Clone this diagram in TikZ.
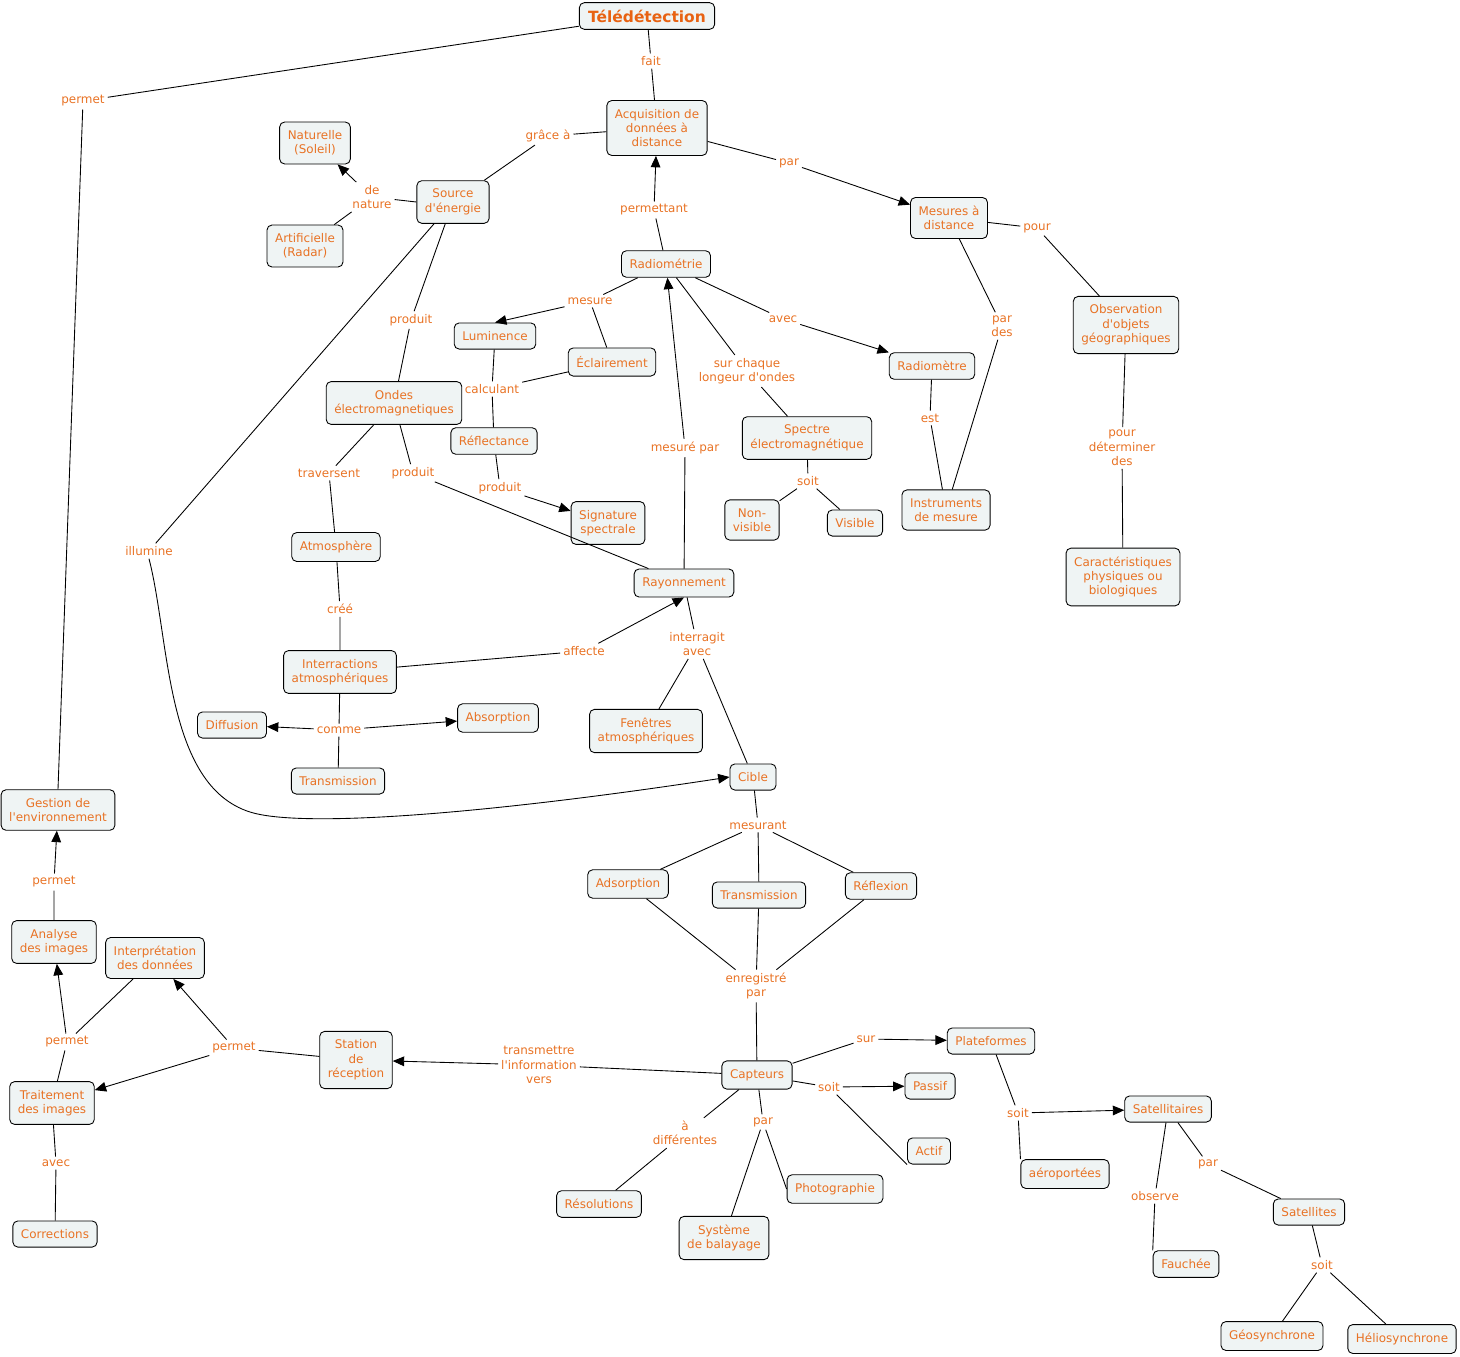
\documentclass[tikz,border=0pt]{standalone}
\usepackage{fontspec}
\setmainfont{DejaVu Sans}
\usetikzlibrary{arrows.meta}
\definecolor{cmaptext}{RGB}{232,114,36}
\definecolor{cmaptitle}{RGB}{232,98,18}
\definecolor{cmapfill}{RGB}{239,244,244}
\newcommand{\apos}{\textquotesingle}

\begin{document}
\begin{tikzpicture}[x=0.02cm,y=-0.02cm,line width=0.5pt,
    font=\fontsize{6.8}{8.2}\selectfont,
    concept/.style={draw,rounded corners=2.8pt,fill=cmapfill,text=cmaptext,align=center,inner xsep=4.6pt,inner ysep=4.8pt},
    link/.style={text=cmaptext,align=center,inner sep=1.5pt},
    arr/.style={-{Triangle[length=6.5pt,width=5.5pt]}}]
    \useasboundingbox (0,0) rectangle (1460,1356);
    % concepts
    \node[concept,text=cmaptitle,font=\fontsize{8.8}{10}\selectfont\bfseries,inner xsep=5pt,inner ysep=4pt] (tele) at (647,16) {Télédétection};
    \node[concept] (acq) at (657,128) {Acquisition de\\données à\\distance};
    \node[concept] (mesdist) at (949,218) {Mesures à\\distance};
    \node[concept] (natur) at (315,143) {Naturelle\\(Soleil)};
    \node[concept] (artif) at (305,246) {Artificielle\\(Radar)};
    \node[concept] (source) at (453,202) {Source\\d\apos énergie};
    \node[concept] (radiom) at (666,264) {Radiométrie};
    \node[concept] (lumin) at (495,336) {Luminence};
    \node[concept] (eclair) at (612,362) {Éclairement};
    \node[concept] (ondes) at (394,403) {Ondes\\électromagnetiques};
    \node[concept] (reflect) at (494,441) {Réflectance};
    \node[concept] (radiometre) at (932,366) {Radiomètre};
    \node[concept] (observ) at (1126,325) {Observation\\d\apos objets\\géographiques};
    \node[concept] (spectre) at (807,438) {Spectre\\électromagnétique};
    \node[concept] (nonvis) at (752,520) {Non-\\visible};
    \node[concept] (visible) at (855,523) {Visible};
    \node[concept] (instr) at (946,510) {Instruments\\de mesure};
    \node[concept] (caract) at (1123,577) {Caractéristiques\\physiques ou\\biologiques};
    \node[concept] (signat) at (608,523) {Signature\\spectrale};
    \node[concept] (atmos) at (336,547) {Atmosphère};
    \node[concept] (rayon) at (684,583) {Rayonnement};
    \node[concept] (interact) at (340,672) {Interractions\\atmosphériques};
    \node[concept] (diffus) at (232,725) {Diffusion};
    \node[concept] (absorp) at (498,718) {Absorption};
    \node[concept] (transA) at (338,781) {Transmission};
    \node[concept] (fenetre) at (646,731) {Fenêtres\\atmosphériques};
    \node[concept] (cible) at (753,777) {Cible};
    \node[concept] (gestion) at (58,810) {Gestion de\\l\apos environnement};
    \node[concept] (adsorp) at (628,884) {Adsorption};
    \node[concept] (transB) at (759,895) {Transmission};
    \node[concept] (reflex) at (881,886) {Réflexion};
    \node[concept] (analyse) at (54,942) {Analyse\\des images};
    \node[concept] (interp) at (155,958) {Interprétation\\des données};
    \node[concept] (station) at (356,1060) {Station\\de\\réception};
    \node[concept] (traite) at (52,1103) {Traitement\\des images};
    \node[concept] (correct) at (55,1234) {Corrections};
    \node[concept] (capteur) at (757,1075) {Capteurs};
    \node[concept] (platef) at (991,1041) {Plateformes};
    \node[concept] (passif) at (930,1086) {Passif};
    \node[concept] (actif) at (929,1151) {Actif};
    \node[concept] (resol) at (599,1204) {Résolutions};
    \node[concept] (photo) at (835,1189) {Photographie};
    \node[concept] (systeme) at (724,1238) {Système\\de balayage};
    \node[concept] (satA) at (1168,1109) {Satellitaires};
    \node[concept] (aero) at (1065,1174) {aéroportées};
    \node[concept] (fauche) at (1186,1264) {Fauchée};
    \node[concept] (satB) at (1309,1212) {Satellites};
    \node[concept] (geo) at (1272,1336) {Géosynchrone};
    \node[concept] (helio) at (1402,1339) {Héliosynchrone};
    % linking phrases
    \node[link] (lfait) at (651,61) {fait};
    \node[link] (lpermA) at (83,101) {permet};
    \node[link] (lgrace) at (548,136) {grâce à};
    \node[link] (lparA) at (789,163) {par};
    \node[link] (lpourA) at (1037,228) {pour};
    \node[link] (lnature) at (372,197) {de\\nature};
    \node[link] (lpermettant) at (654,210) {permettant};
    \node[link] (lmesure) at (590,301) {mesure};
    \node[link] (lprodA) at (411,320) {produit};
    \node[link] (lillum) at (149,551) {illumine};
    \node[link] (lavecA) at (783,319) {avec};
    \node[link] (lchaque) at (747,371) {sur chaque\\longeur d\apos ondes};
    \node[link] (lmesurepar) at (685,448) {mesuré par};
    \node[link] (lcalcul) at (492,389) {calculant};
    \node[link] (lprodB) at (500,488) {produit};
    \node[link] (ltravers) at (329,473) {traversent};
    \node[link] (lprodC) at (413,473) {produit};
    \node[link] (lest) at (930,418) {est};
    \node[link] (lpardes) at (1002,326) {par\\des};
    \node[link] (lpourB) at (1122,448) {pour\\déterminer\\des};
    \node[link] (lsoitA) at (808,481) {soit};
    \node[link] (lcree) at (340,609) {créé};
    \node[link] (laffecte) at (584,651) {affecte};
    \node[link] (linter) at (697,644) {interragit\\avec};
    \node[link] (lcomme) at (339,730) {comme};
    \node[link] (lmesurant) at (758,825) {mesurant};
    \node[link] (lenreg) at (756,986) {enregistré\\par};
    \node[link] (lpermB) at (54,882) {permet};
    \node[link] (lpermC) at (67,1042) {permet};
    \node[link] (lpermD) at (234,1048) {permet};
    \node[link] (lavecB) at (56,1163) {avec};
    \node[link] (ltransmet) at (539,1065) {transmettre\\l\apos information\\vers};
    \node[link] (lsur) at (866,1039) {sur};
    \node[link] (lsoitB) at (829,1087) {soit};
    \node[link] (ldiff) at (685,1133) {à\\différentes};
    \node[link] (lparB) at (763,1122) {par};
    \node[link] (lsoitC) at (1018,1113) {soit};
    \node[link] (lobserve) at (1155,1196) {observe};
    \node[link] (lparC) at (1208,1164) {par};
    \node[link] (lsoitD) at (1322,1265) {soit};
    % connections
    \draw (tele) -- (lfait) -- (acq);
    \draw (tele) -- (lpermA) -- (gestion.north);
    \draw (acq) -- (lgrace) -- (source);
    \draw[arr] (acq) -- (lparA) -- (mesdist);
    \draw (mesdist) -- (lpourA) -- (observ);
    \draw[arr] (source.west) -- (lnature) -- (natur);
    \draw (lnature) -- (artif);
    \draw[arr] (radiom) -- (lpermettant) -- (acq);
    \draw[arr] (radiom) -- (lmesure) -- (lumin.north);
    \draw (lmesure) -- (eclair);
    \draw (source) -- (lprodA) -- (ondes);
    \draw (source) -- (lillum);
    \draw[arr] (lillum.south) .. controls (170,640) and (165,785) .. (250,812)
        .. controls (300,828) and (480,815) .. (cible.west);
    \draw[arr] (radiom) -- (lavecA) -- (radiometre);
    \draw (radiom) -- (lchaque) -- (spectre);
    \draw[arr] (rayon) -- (lmesurepar) -- (radiom);
    \draw (lumin) -- (lcalcul) -- (reflect);
    \draw (eclair) -- (lcalcul);
    \draw[arr] (reflect) -- (lprodB) -- (signat);
    \draw (ondes) -- (ltravers) -- (atmos);
    \draw (ondes) -- (lprodC) -- (rayon);
    \draw (radiometre) -- (lest) -- (instr);
    \draw (mesdist) -- (lpardes) -- (instr);
    \draw (observ) -- (lpourB) -- (caract);
    \draw (spectre) -- (lsoitA) -- (nonvis);
    \draw (lsoitA) -- (visible);
    \draw (atmos) -- (lcree) -- (interact);
    \draw[arr] (interact) -- (laffecte) -- (rayon.south);
    \draw (rayon) -- (linter) -- (fenetre);
    \draw (linter) -- (cible);
    \draw[arr] (interact) -- (lcomme) -- (diffus);
    \draw[arr] (lcomme) -- (absorp);
    \draw (lcomme) -- (transA);
    \draw (cible) -- (lmesurant) -- (adsorp);
    \draw (lmesurant) -- (transB);
    \draw (lmesurant) -- (reflex);
    \draw (adsorp) -- (lenreg) -- (capteur);
    \draw (transB) -- (lenreg);
    \draw (reflex) -- (lenreg);
    \draw[arr] (analyse) -- (lpermB) -- (gestion);
    \draw[arr] (traite) -- (lpermC) -- (analyse);
    \draw (lpermC) -- (interp);
    \draw[arr] (station) -- (lpermD) -- (interp);
    \draw[arr] (lpermD) -- (traite);
    \draw (traite) -- (lavecB) -- (correct);
    \draw[arr] (capteur) -- (ltransmet) -- (station);
    \draw[arr] (capteur) -- (lsur) -- (platef);
    \draw[arr] (capteur) -- (lsoitB) -- (passif);
    \draw (lsoitB) -- (actif.south west);
    \draw (capteur) -- (ldiff) -- (resol);
    \draw (capteur) -- (lparB) -- (systeme);
    \draw (lparB) -- (photo.west);
    \draw[arr] (platef) -- (lsoitC) -- (satA);
    \draw (lsoitC) -- (aero.north west);
    \draw (satA) -- (lobserve) -- (fauche.north west);
    \draw (satA) -- (lparC) -- (satB);
    \draw (satB) -- (lsoitD) -- (geo);
    \draw (lsoitD) -- (helio);
\end{tikzpicture}
\end{document}
